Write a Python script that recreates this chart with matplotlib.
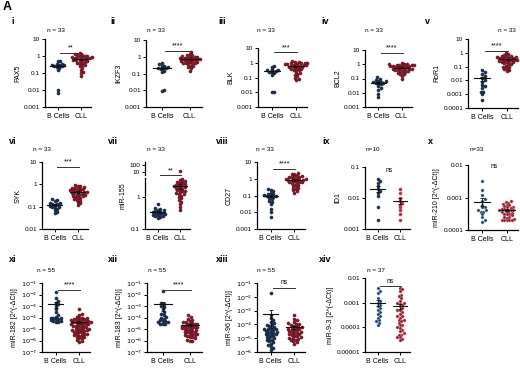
import numpy as np
import matplotlib
matplotlib.use('Agg')
import matplotlib.pyplot as plt
from matplotlib.ticker import FixedLocator, FixedFormatter, NullLocator

plt.rcParams['font.family'] = ['Liberation Sans', 'DejaVu Sans']

# ---------------- data ----------------
groups = ['B Cells', 'CLL']

pax5_b = [0.5, 0.48, 0.35, 0.33, 0.3, 0.3, 0.28, 0.27, 0.25, 0.22, 0.2, 0.15, 0.01, 0.007]
pax5_cll = [1.5, 1.3, 1.2, 1.1, 1.0, 1.0, 0.95, 0.9, 0.9, 0.85, 0.8, 0.8, 0.75, 0.7, 0.7, 0.65, 0.6,
            0.6, 0.55, 0.5, 0.5, 0.45, 0.4, 0.4, 0.35, 0.3, 0.28, 0.25, 0.2, 0.15, 0.12, 0.1, 0.07]

ikzf3_b = [0.4, 0.35, 0.3, 0.28, 0.25, 0.22, 0.2, 0.2, 0.18, 0.15, 0.13, 0.011, 0.009]
ikzf3_cll = [2.0, 1.5, 1.3, 1.2, 1.1, 1.0, 1.0, 0.95, 0.9, 0.85, 0.8, 0.8, 0.75, 0.7, 0.7, 0.7, 0.65,
             0.6, 0.6, 0.55, 0.55, 0.5, 0.5, 0.45, 0.45, 0.4, 0.4, 0.35, 0.3, 0.3, 0.25, 0.2, 0.15]

blk_b = [0.6, 0.55, 0.35, 0.3, 0.3, 0.28, 0.25, 0.22, 0.2, 0.15, 0.011, 0.01]
blk_cll = [1.3, 1.2, 1.1, 1.0, 1.0, 0.95, 0.9, 0.85, 0.8, 0.8, 0.75, 0.7, 0.7, 0.65, 0.6, 0.6, 0.55,
           0.5, 0.5, 0.45, 0.4, 0.4, 0.35, 0.3, 0.3, 0.25, 0.2, 0.18, 0.15, 0.12, 0.1, 0.08, 0.07]

bcl2_b = [0.12, 0.1, 0.08, 0.07, 0.07, 0.06, 0.06, 0.05, 0.05, 0.045, 0.04, 0.03, 0.02, 0.015, 0.008, 0.005]
bcl2_cll = [1.2, 1.1, 1.0, 1.0, 0.95, 0.9, 0.9, 0.85, 0.8, 0.8, 0.75, 0.7, 0.7, 0.65, 0.6, 0.6, 0.55,
            0.5, 0.5, 0.5, 0.45, 0.45, 0.4, 0.4, 0.35, 0.35, 0.3, 0.3, 0.25, 0.22, 0.2, 0.15, 0.1]

ror1_b = [0.06, 0.04, 0.03, 0.02, 0.015, 0.01, 0.008, 0.005, 0.004, 0.003, 0.0015, 0.0015, 0.001, 0.0004]
ror1_cll = [1.0, 0.8, 0.7, 0.6, 0.6, 0.55, 0.5, 0.5, 0.45, 0.45, 0.4, 0.4, 0.35, 0.35, 0.3, 0.3, 0.3,
            0.28, 0.25, 0.25, 0.22, 0.2, 0.2, 0.18, 0.15, 0.15, 0.12, 0.1, 0.1, 0.08, 0.07, 0.06, 0.05]

syk_b = [0.22, 0.2, 0.18, 0.15, 0.14, 0.13, 0.13, 0.12, 0.11, 0.1, 0.1, 0.09, 0.08, 0.07, 0.055, 0.05]
syk_cll = [0.9, 0.85, 0.8, 0.75, 0.7, 0.7, 0.65, 0.6, 0.6, 0.55, 0.55, 0.5, 0.5, 0.45, 0.45, 0.45, 0.4,
           0.4, 0.38, 0.35, 0.35, 0.32, 0.3, 0.3, 0.28, 0.25, 0.25, 0.22, 0.2, 0.18, 0.16, 0.14, 0.12]

mir155_b = [0.6, 0.45, 0.42, 0.4, 0.38, 0.36, 0.35, 0.34, 0.33, 0.32, 0.3, 0.3, 0.29, 0.28, 0.27,
            0.26, 0.25, 0.24, 0.22]
mir155_cll = [12, 3.6, 3.4, 3.2, 3.0, 2.9, 2.8, 2.6, 2.5, 2.4, 2.3, 2.2, 2.1, 2.0, 2.0, 1.9, 1.8,
              1.7, 1.6, 1.5, 1.5, 1.4, 1.3, 1.2, 1.2, 1.1, 1.0, 0.9, 0.8, 0.7, 0.6, 0.5, 0.4]

cd27_b = [0.25, 0.22, 0.18, 0.15, 0.13, 0.12, 0.11, 0.1, 0.1, 0.09, 0.08, 0.07, 0.06, 0.05, 0.04,
          0.03, 0.015, 0.01, 0.005]
cd27_cll = [2.2, 2.0, 1.8, 1.6, 1.5, 1.4, 1.3, 1.2, 1.2, 1.1, 1.0, 1.0, 0.95, 0.9, 0.85, 0.8, 0.8,
            0.75, 0.7, 0.65, 0.6, 0.6, 0.55, 0.5, 0.45, 0.4, 0.35, 0.3, 0.28, 0.25, 0.2, 0.18, 0.15]

id1_b = [0.04, 0.035, 0.03, 0.025, 0.02, 0.017, 0.015, 0.012, 0.005, 0.002]
id1_cll = [0.02, 0.015, 0.01, 0.008, 0.007, 0.006, 0.005, 0.004, 0.003, 0.002]

mir210_b = [0.0033, 0.0017, 0.0012, 0.0009, 0.0008, 0.0006, 0.0005, 0.0005, 0.0004, 0.0004,
            0.00035, 0.00035, 0.0003, 0.00025, 0.0002, 0.00018]
mir210_cll = [0.0008, 0.00075, 0.0007, 0.00065, 0.0006, 0.0006, 0.00055, 0.0005, 0.0005, 0.00048,
              0.00045, 0.00045, 0.00042, 0.0004, 0.0004, 0.0004, 0.00038, 0.00036, 0.00035, 0.00034,
              0.00032, 0.0003, 0.0003, 0.00028, 0.00026, 0.00025, 0.00024, 0.00022, 0.00021, 0.0002,
              0.0002, 0.0002, 0.0002]

mir182_b = [0.015, 0.005, 0.003, 0.002, 0.0015, 0.001, 0.0005, 0.0003, 0.00015, 0.00012, 0.0001,
            0.0001, 0.0001, 8e-5, 7e-5, 6e-5, 5e-5, 5e-5, 4e-5, 4e-5]
mir182_cll = [5e-4, 2e-4, 1.5e-4, 1.2e-4, 1e-4, 1e-4, 9e-5, 8e-5, 8e-5, 7e-5, 6e-5, 6e-5, 5e-5, 5e-5,
              5e-5, 4e-5, 4e-5, 4e-5, 3.5e-5, 3e-5, 3e-5, 3e-5, 2.5e-5, 2.5e-5, 2e-5, 2e-5, 2e-5,
              1.8e-5, 1.5e-5, 1.5e-5, 1.2e-5, 1e-5, 1e-5, 1e-5, 9e-6, 8e-6, 8e-6, 7e-6, 6e-6, 6e-6,
              5e-6, 5e-6, 4e-6, 4e-6, 3.5e-6, 3e-6, 3e-6, 2.5e-6, 2e-6, 2e-6, 1.8e-6, 1.5e-6, 1.2e-6,
              1e-6, 8e-7]

mir183_b = [0.02, 0.002, 0.0015, 0.001, 0.0008, 0.0005, 0.0003, 0.0002, 0.00015, 0.00012, 0.0001,
            8e-5, 6e-5, 5e-5, 5e-5, 4e-5, 4e-5, 3e-5, 3e-5, 3e-5]
mir183_cll = [1.5e-4, 1.2e-4, 8e-5, 6e-5, 5e-5, 4e-5, 4e-5, 3.5e-5, 3e-5, 3e-5, 2.5e-5, 2.5e-5, 2e-5,
              2e-5, 2e-5, 1.8e-5, 1.6e-5, 1.5e-5, 1.4e-5, 1.2e-5, 1.2e-5, 1e-5, 1e-5, 9e-6, 8e-6,
              7e-6, 6e-6, 6e-6, 5e-6, 5e-6, 4e-6, 4e-6, 3.5e-6, 3e-6, 3e-6, 2.5e-6, 2e-6, 2e-6,
              1.5e-6, 1.2e-6, 1e-6, 1e-6]

mir96_b = [0.02, 0.0005, 0.0003, 0.0002, 0.00015, 0.00012, 0.0001, 9e-5, 8e-5, 7e-5, 6e-5, 5e-5,
           5e-5, 4.5e-5, 4e-5, 4e-5, 3.5e-5, 3e-5, 3e-5, 2.5e-5, 2.5e-5, 2e-5, 2e-5, 1.8e-5, 1.5e-5,
           1.5e-5, 1.2e-5, 1e-5, 1e-5, 8e-6, 7e-6, 6e-6, 5e-6, 4e-6, 3e-6, 2.5e-6, 2e-6, 1.5e-6]
mir96_cll = [5e-4, 2.5e-4, 2e-4, 1.5e-4, 1.2e-4, 1e-4, 1e-4, 9e-5, 8e-5, 7e-5, 6e-5, 6e-5, 5e-5, 5e-5,
             4.5e-5, 4e-5, 4e-5, 3.5e-5, 3e-5, 3e-5, 2.5e-5, 2.5e-5, 2e-5, 2e-5, 1.8e-5, 1.5e-5,
             1.5e-5, 1.2e-5, 1e-5, 1e-5, 9e-6, 8e-6, 7e-6, 6e-6, 5e-6, 4e-6]

mir93_b = [0.004, 0.003, 0.0025, 0.0015, 0.0012, 0.001, 0.0008, 0.0007, 0.0006, 0.0005, 0.0004,
           0.00035, 0.0003, 0.00025, 0.0002, 0.00018, 0.00015, 0.00012]
mir93_cll = [0.004, 0.0035, 0.003, 0.002, 0.0018, 0.0015, 0.0012, 0.001, 0.001, 0.0009, 0.0008,
             0.0007, 0.0006, 0.0005, 0.0005, 0.0004, 0.00035, 0.0003, 0.00028, 0.00025, 0.0002,
             0.0002, 0.00018, 0.00015, 0.00013, 0.00012, 0.0001, 9e-5, 8e-5, 7e-5, 6e-5, 5e-5,
             5e-5, 4e-5, 4e-5, 3.5e-5, 3e-5]

roman = ['i', 'ii', 'iii', 'iv', 'v', 'vi', 'vii', 'viii', 'ix', 'x', 'xi', 'xii', 'xiii', 'xiv']
ylabels = ['PAX5', 'IKZF3', 'BLK', 'BCL2', 'RoR1', 'SYK', 'miR-155', 'CD27', 'ID1',
           'miR-210 [2^(-ΔCt)]', 'miR-182 [2^(-ΔCt)]', 'miR-183 [2^(-ΔCt)]',
           'miR-96 [2^(-ΔCt)]', 'miR-9-3 [2^(-ΔCt)]']
n_labels = ['n = 33'] * 8 + ['n=10', 'n=33', 'n = 55', 'n = 55', 'n = 55', 'n = 37']
sig_labels = ['**', '****', '***', '****', '****', '***', '**', '****', 'ns', 'ns',
              '****', '****', 'ns', 'ns']
b_data = [pax5_b, ikzf3_b, blk_b, bcl2_b, ror1_b, syk_b, mir155_b, cd27_b, id1_b, mir210_b,
          mir182_b, mir183_b, mir96_b, mir93_b]
c_data = [pax5_cll, ikzf3_cll, blk_cll, bcl2_cll, ror1_cll, syk_cll, mir155_cll, cd27_cll, id1_cll,
          mir210_cll, mir182_cll, mir183_cll, mir96_cll, mir93_cll]
# y-axis decades (exponent of top tick, exponent of bottom tick)
decades = [(1, -3), (1, -3), (1, -3), (1, -3), (1, -4), (1, -2), (-1, 2), (1, -3), (-1, -3),
           (-2, -4), (-1, -7), (-1, -7), (-1, -6), (-2, -5)]
power_fmt = [False] * 10 + [True, True, True, False]

# ---------------- layout (pixels: left, top, right, bottom) ----------------
W, H = 520, 368
rects = [(45, 39, 91, 107), (146, 40, 202, 107), (258, 48, 307, 107), (365, 50, 412, 107),
         (468, 39, 518, 108),
         (42, 162, 88, 229), (145, 162, 190, 229), (257, 162, 305, 229), (365, 167, 410, 229),
         (468, 165, 518, 230),
         (42, 283, 90, 352), (147, 283, 202, 352), (257, 283, 305, 352), (365, 278, 410, 352)]
roman_pos = [(13, 21), (113, 21), (222, 21), (325, 21), (427, 21),
             (13, 141), (113, 141), (222, 141), (326, 141), (430, 141),
             (13, 260), (113, 260), (222, 260), (325, 260)]
n_pos = [(47, 31), (147, 31), (257, 31), (365, 31), (498, 31),
         (33, 149), (147, 149), (256, 149), (366, 149), (470, 149),
         (37, 270), (148, 270), (257, 270), (367, 270)]
sig_y = [0.80, 0.84, 0.93, 0.95, 0.83, 0.93, 0.80, 0.90, 0.88, 0.93, 0.90, 0.90, 0.93, 0.89]
sig_bar = [True] * 8 + [False, False] + [True] * 4

B_COL, B_EDGE = '#1d3350', '#14243a'
C_COL, C_EDGE = '#8a1a2c', '#5a0f1c'
ALT = {8: ('#1f3550', '#1f3550', '#b23a48', '#b23a48'),
       9: ('#1f3a5c', '#8fb3d6', '#8a1a2c', '#d98a95'),
       13: ('#1f3a5c', '#8fb3d6', '#8a1a2c', '#d98a95')}

fig = plt.figure(figsize=(W / 100, H / 100), dpi=100)
fig.text(3 / W, 1 - 1 / H, 'A', fontsize=9, fontweight='bold', va='top', ha='left')


def swarm_x(ax, xc, vals, d=2.5):
    vals = np.asarray(vals, float)
    pts = ax.transData.transform(np.column_stack([np.full(len(vals), xc, float), vals]))
    x0 = pts[0, 0]
    ys = pts[:, 1]
    order = np.argsort(ys)
    px, py = [], []
    out = np.empty(len(vals))
    offs = [0.0]
    for k in range(1, 80):
        offs += [k * d * 0.5, -k * d * 0.5]
    for i in order:
        y = ys[i]
        for o in offs:
            x = x0 + o
            if all((x - a) ** 2 + (y - b) ** 2 >= d * d * 0.95 for a, b in zip(px, py)):
                break
        px.append(x)
        py.append(y)
        out[i] = x
    back = ax.transData.inverted().transform(np.column_stack([out, ys]))
    return back[:, 0]


LB = np.log10(3.8)
GAP, RAT = 0.11, 0.22


def brk_fwd(y):
    ly = np.log10(np.clip(np.asarray(y, float), 1e-12, None))
    return np.where(ly <= LB, ly, LB + GAP + (ly - LB) * RAT)


def brk_inv(z):
    z = np.asarray(z, float)
    return np.where(z <= LB, 10 ** z, 10 ** (LB + (z - LB - GAP) / RAT))


def fmt_dec(v):
    return np.format_float_positional(v, trim='-')


for k in range(14):
    L, T, R, Bt = rects[k]
    ax = fig.add_axes([L / W, 1 - Bt / H, (R - L) / W, (Bt - T) / H])
    top, bot = decades[k]
    if k == 6:
        ax.set_yscale('function', functions=(brk_fwd, brk_inv))
        ticks = [0.1, 1, 10, 100]
        ax.set_ylim(0.1, 250)
    else:
        ax.set_yscale('log')
        ticks = [10.0 ** e for e in range(bot, top + 1)]
        ax.set_ylim(10.0 ** bot, 10.0 ** top)
    ax.yaxis.set_major_locator(FixedLocator(ticks))
    if power_fmt[k]:
        labs = ['$10^{%d}$' % e for e in range(bot, top + 1)]
    else:
        labs = [fmt_dec(t) for t in ticks]
    ax.yaxis.set_major_formatter(FixedFormatter(labs))
    ax.yaxis.set_minor_locator(NullLocator())
    ax.set_xlim(-0.57, 1.45)
    ax.set_xticks([0, 1])
    ax.set_xticklabels(groups)
    for s in ['top', 'right']:
        ax.spines[s].set_visible(False)
    for s in ['left', 'bottom']:
        ax.spines[s].set_linewidth(0.9)
    ax.tick_params(axis='both', length=2, width=0.7, pad=1.5, labelsize=4.6)
    ax.tick_params(axis='x', labelsize=5, pad=2)
    ax.set_ylabel(ylabels[k], fontsize=5, labelpad=2)
    ax.patch.set_alpha(0)

    if k == 6:
        ax.spines['left'].set_visible(False)
        z0, z1 = brk_fwd(0.1), brk_fwd(250)
        f1 = (LB - z0) / (z1 - z0)
        f2 = (LB + GAP - z0) / (z1 - z0)
        ax.plot([0, 0], [0, f1], transform=ax.transAxes, color='k', lw=0.9, clip_on=False)
        ax.plot([0, 0], [f2, 1], transform=ax.transAxes, color='k', lw=0.9, clip_on=False)

    bc, be, cc, ce = ALT.get(k, (B_COL, B_EDGE, C_COL, C_EDGE))
    for xc, vals, fc, ec in [(0, b_data[k], bc, be), (1, c_data[k], cc, ce)]:
        xs = swarm_x(ax, xc, vals)
        ax.scatter(xs, vals, s=5.0, color=fc, edgecolors=ec, linewidths=0.35, zorder=3,
                   clip_on=False)
        v = np.asarray(vals, float)
        m = v.mean()
        se = v.std(ddof=1) / np.sqrt(len(v))
        ax.plot([xc - 0.33, xc + 0.33], [m, m], color='#111111', lw=0.8, zorder=4)
        ax.errorbar([xc], [m], yerr=[[min(se, m * 0.95)], [se]], fmt='none', ecolor='#111111',
                    elinewidth=0.6, capsize=1.6, capthick=0.6, zorder=4)

    tr = ax.get_xaxis_transform()
    if sig_bar[k]:
        ax.plot([0.1, 1.05], [sig_y[k], sig_y[k]], transform=tr, color='#333333', lw=0.7,
                clip_on=False)
        ax.text(0.575, sig_y[k] + 0.02, sig_labels[k], transform=tr, ha='center', va='bottom',
                fontsize=5.2 if sig_labels[k] != 'ns' else 4.8)
    else:
        ax.text(0.5, sig_y[k], sig_labels[k], transform=tr, ha='center', va='bottom', fontsize=4.8)

    rx, ry = roman_pos[k]
    fig.text(rx / W, 1 - ry / H, roman[k], fontsize=6.5, fontweight='bold', ha='center',
             va='center')
    nx, ny = n_pos[k]
    fig.text(nx / W, 1 - ny / H, n_labels[k], fontsize=4.6, ha='left', va='center')

fig.savefig('out.png', dpi=100)
